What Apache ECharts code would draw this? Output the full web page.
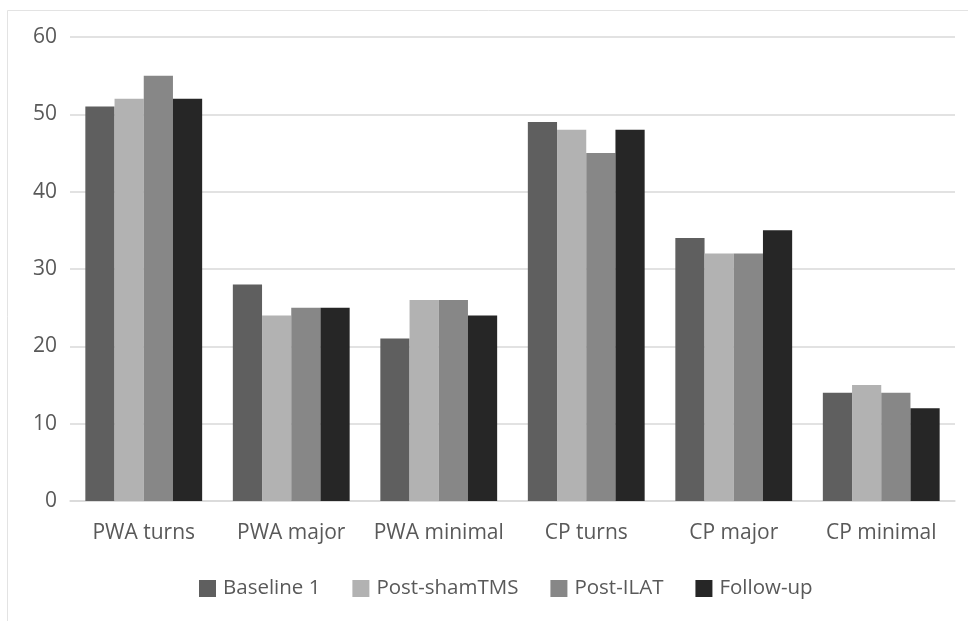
<!DOCTYPE html>
<html>
<head>
<meta charset="utf-8">
<script src="https://cdn.jsdelivr.net/npm/echarts@6/dist/echarts.min.js"></script>
<style>
html,body{margin:0;padding:0;background:#fff;}
#c{width:968px;height:621px;}
</style>
</head>
<body>
<div id="c"></div>
<script>
const categories = ['PWA turns', 'PWA major', 'PWA minimal', 'CP turns', 'CP major', 'CP minimal'];
const seriesNames = ['Baseline 1', 'Post-shamTMS', 'Post-ILAT', 'Follow-up'];
const baseline1 = [51, 28, 21, 49, 34, 14];
const postShamTMS = [52, 24, 26, 48, 32, 15];
const postILAT = [55, 25, 26, 45, 32, 14];
const followUp = [52, 25, 24, 48, 35, 12];
const yTicks = [0, 10, 20, 30, 40, 50, 60];

const colors = ['#5f5f5f', '#b2b2b2', '#878787', '#262626'];
const values = [baseline1, postShamTMS, postILAT, followUp];
const font = 'Open Sans';

const chart = echarts.init(document.getElementById('c'), null, {renderer: 'canvas'});
chart.setOption({
  animation: false,
  backgroundColor: '#fff',
  graphic: [{
    type: 'rect',
    shape: {x: 7.5, y: 10.5, width: 1200, height: 1200},
    style: {fill: 'none', stroke: '#e3e3e3', lineWidth: 1},
    silent: true
  }],
  grid: {left: 70, right: 13, top: 37, bottom: 120, containLabel: false},
  legend: {
    data: seriesNames,
    top: 578,
    left: 199,
    padding: 0,
    itemWidth: 17,
    itemHeight: 17,
    itemGap: 32,
    icon: 'rect',
    textStyle: {fontFamily: font, fontSize: 20.5, color: '#595959', padding: [0, 0, 0, 2]}
  },
  xAxis: {
    type: 'category',
    data: categories,
    axisLine: {lineStyle: {color: '#d9d9d9', width: 1.5}},
    axisTick: {show: false},
    axisLabel: {fontFamily: font, fontSize: 21, color: '#595959', margin: 22, interval: 0}
  },
  yAxis: {
    type: 'value',
    min: yTicks[0],
    max: yTicks[yTicks.length - 1],
    interval: 10,
    axisLine: {show: false},
    axisTick: {show: false},
    splitLine: {lineStyle: {color: '#d9d9d9', width: 1.5}},
    axisLabel: {fontFamily: font, fontSize: 21, color: '#595959', margin: 13}
  },
  series: seriesNames.map((n, i) => ({
    name: n,
    type: 'bar',
    data: values[i],
    barWidth: '19.8%',
    barGap: '0%',
    itemStyle: {color: colors[i]}
  }))
});
</script>
</body>
</html>
